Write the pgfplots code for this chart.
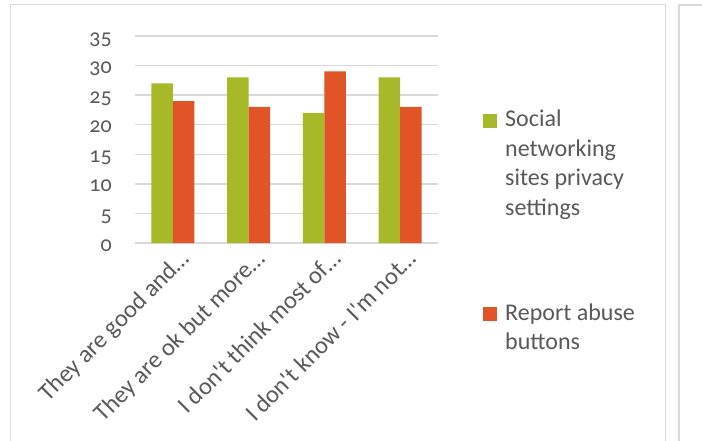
\documentclass[border=0pt]{standalone}
\usepackage{pgfplots}
\pgfplotsset{compat=1.18}
\usepackage{fontspec}
\setmainfont{Carlito}[Numbers=OldStyle, Ligatures=TeXOff]
\definecolor{cgreen}{RGB}{167,185,41}
\definecolor{cred}{RGB}{225,84,39}
\definecolor{ctext}{RGB}{89,89,89}
\definecolor{cgrid}{RGB}{217,217,217}
\definecolor{cframe}{RGB}{217,217,217}
\begin{document}
\begin{tikzpicture}
\useasboundingbox (0,0) rectangle (702pt,-441pt);
\fill[white] (0,0) rectangle (702pt,-441pt);
\draw[cframe, line width=1pt] (10pt,-460pt) -- (10pt,-5pt) -- (665pt,-5pt) -- (665pt,-460pt);
\draw[cframe, line width=1.5pt] (679pt,-460pt) -- (679pt,-5pt) -- (710pt,-5pt);
\begin{axis}[
  at={(135pt,-243pt)}, anchor=south west,
  scale only axis, width=303pt, height=207pt,
  ybar=0pt, bar width=21.5pt,
  xmin=-0.5, xmax=3.5, ymin=0, ymax=35,
  ytick={0,5,...,35},
  xtick={0,1,2,3},
  xticklabels={They are good and…, They are ok but more…, I don't think most of…, I don't know - I'm not…},
  axis line style={draw=none},
  major tick length=0pt,
  ymajorgrids, grid style={cgrid, line width=1.5pt},
  /pgf/number format/assume math mode=true,
  yticklabel style={font=\fontsize{22}{26}\selectfont, text=ctext, anchor=base east, inner sep=0pt, xshift=-23pt, yshift=-8pt},
  xticklabel style={font=\fontsize{24.5}{28}\selectfont, text=ctext, anchor=base east, inner sep=0pt, xshift=18pt, yshift=-17pt, rotate=45},
  legend style={at={(1.1485,0.652)}, anchor=north west, draw=none, fill=none, inner sep=0pt,
    font=\fontsize{24}{29.5}\selectfont, text=ctext, column sep=6pt, row sep=171pt,
    cells={anchor=base west}},
  legend image code/.code={\fill[#1] (0pt,-1pt) rectangle (14pt,13pt);},
]
\addplot[fill=cgreen, draw=none] coordinates {(0,27) (1,28) (2,22) (3,28)};
\addplot[fill=cred, draw=none] coordinates {(0,24) (1,23) (2,29) (3,23)};
\addlegendentry{\parbox[t]{150pt}{\raggedright Social\\networking\\sites privacy\\settings}}
\addlegendentry{\parbox[t]{150pt}{\raggedright Report abuse\\buttons}}
\end{axis}
\end{tikzpicture}
\end{document}
